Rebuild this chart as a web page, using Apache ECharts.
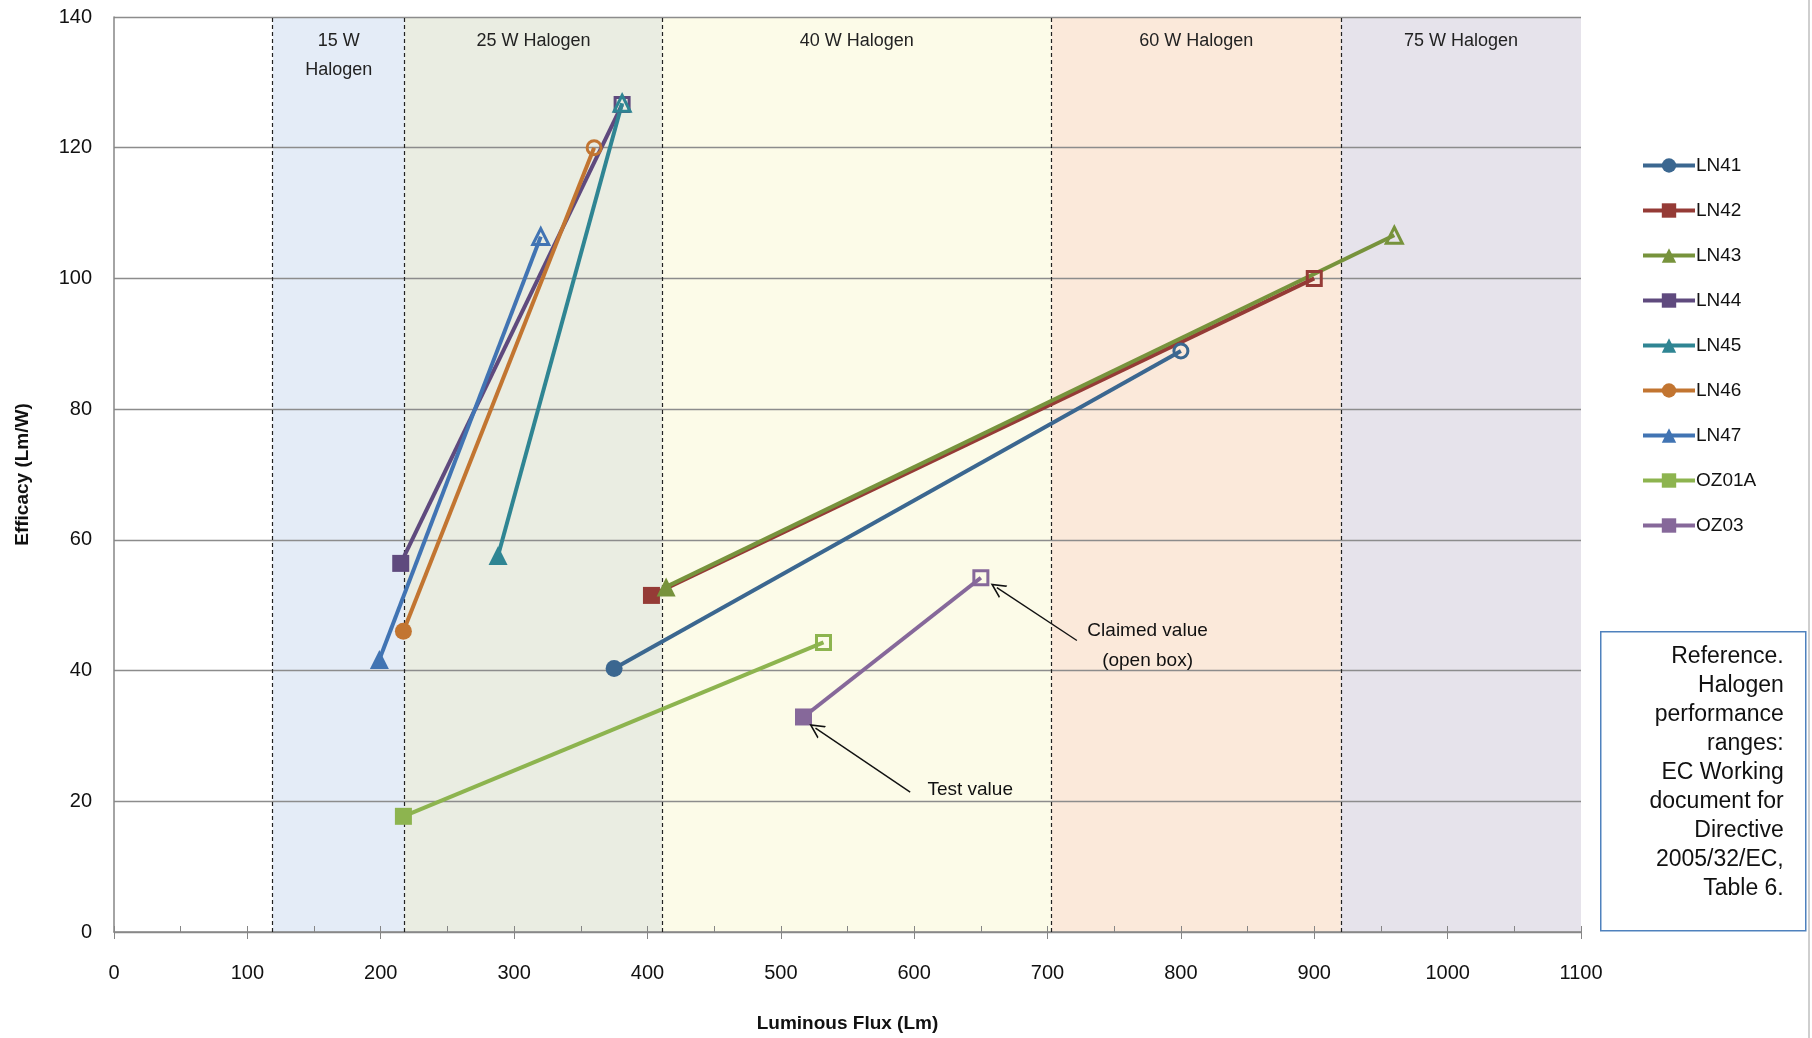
<!DOCTYPE html>
<html>
<head>
<meta charset="utf-8">
<title>Efficacy vs Luminous Flux</title>
<script src="https://cdn.jsdelivr.net/npm/echarts@6/dist/echarts.min.js"></script>
<style>
  html, body { margin: 0; padding: 0; background: #fff; }
  #chart { width: 1812px; height: 1038px; }
</style>
</head>
<body>
<div id="chart"></div>
<script>
// lamp series: test value (filled marker) -> claimed value (open marker)
var seriesNames = ['LN41', 'LN42', 'LN43', 'LN44', 'LN45', 'LN46', 'LN47', 'OZ01A', 'OZ03'];
var testFlux = [375, 403, 414, 215, 288, 217, 199, 217, 517];
var testEfficacy = [40.3, 51.5, 52.8, 56.4, 57.6, 46.0, 41.7, 17.7, 32.9];
var claimedFlux = [800, 900, 960, 381, 381, 360, 320, 532, 650];
var claimedEfficacy = [88.9, 100, 106.6, 126.6, 126.8, 120, 106.4, 44.3, 54.2];

// halogen reference ranges (lumens)
var bandNames = ['15 W\nHalogen', '25 W Halogen', '40 W Halogen', '60 W Halogen', '75 W Halogen'];
var bandStart = [119, 218, 411, 703, 920];
var bandEnd = [218, 411, 703, 920, 1100];

// axis ticks
var xTicks = [0, 100, 200, 300, 400, 500, 600, 700, 800, 900, 1000, 1100];
var yTicks = [0, 20, 40, 60, 80, 100, 120, 140];

// annotations: label positions and arrows [from] -> [to]
var noteLabels = ['Claimed value\n(open box)', 'Test value'];
var noteX = [775, 642];
var noteY = [43.8, 21.7];
var arrowFrom = [[722, 44.6], [597, 21.4]];
var arrowTo = [[662, 52.7], [526, 31.2]];

var refNote = ['Reference.', 'Halogen', 'performance', 'ranges:', 'EC Working', 'document for', 'Directive', '2005/32/EC,', 'Table 6.'];

var seriesColors = ['#3B6790', '#953B36', '#77933C', '#5F4A7E', '#2F8593', '#C27531', '#4174B3', '#8DB44F', '#86689A'];
var seriesSymbols = ['circle', 'rect', 'triangle', 'rect', 'triangle', 'circle', 'triangle', 'rect', 'rect'];
var bandColors = ['#E4ECF7', '#EAEDE2', '#FCFBE8', '#FBE9DA', '#E6E3EB'];

var FONT = "'Liberation Sans', Arial, sans-serif";

var chart = echarts.init(document.getElementById('chart'), null, {renderer: 'canvas'});

var series = [];

// background bands
var bandAreas = [];
for (var b = 0; b < bandNames.length; b++) {
    bandAreas.push([
        {name: bandNames[b], xAxis: bandStart[b], itemStyle: {color: bandColors[b]}},
        {xAxis: bandEnd[b]}
    ]);
}
series.push({
    name: 'bands',
    type: 'line',
    data: [],
    silent: true,
    markArea: {
        silent: true,
        z: 1,
        label: {
            show: true,
            position: 'insideTop',
            distance: 10,
            color: '#222',
            fontFamily: FONT,
            fontSize: 18,
            lineHeight: 29
        },
        data: bandAreas
    }
});

// dashed boundaries
var dashData = [];
for (var d = 0; d < bandStart.length; d++) {
    dashData.push({xAxis: bandStart[d]});
}
series.push({
    name: 'boundaries',
    type: 'line',
    data: [],
    silent: true,
    markLine: {
        silent: true,
        z: 2.5,
        symbol: 'none',
        label: {show: false},
        lineStyle: {color: '#222', type: [4, 3], width: 1.2},
        data: dashData
    }
});

// annotation arrows and text
var arrowData = [];
for (var a = 0; a < arrowFrom.length; a++) {
    arrowData.push([{coord: arrowFrom[a]}, {coord: arrowTo[a]}]);
}
var noteData = [];
for (var n = 0; n < noteLabels.length; n++) {
    noteData.push({name: noteLabels[n], coord: [noteX[n], noteY[n]]});
}
series.push({
    name: 'notes',
    type: 'line',
    data: [],
    silent: true,
    markLine: {
        silent: true,
        z: 6,
        symbol: ['none', 'path://M0,10 L5,0 L10,10 L8.8,10 L5,2.4 L1.2,10 Z'],
        symbolSize: [15, 15],
        label: {show: false},
        lineStyle: {color: '#111', type: 'solid', width: 1.4},
        data: arrowData
    },
    markPoint: {
        silent: true,
        z: 6,
        symbol: 'circle',
        symbolSize: 1,
        itemStyle: {color: 'rgba(0,0,0,0)'},
        label: {
            show: true,
            position: 'inside',
            formatter: '{b}',
            color: '#111',
            fontFamily: FONT,
            fontSize: 19,
            lineHeight: 30
        },
        data: noteData
    }
});

// lamp series
for (var i = 0; i < seriesNames.length; i++) {
    var c = seriesColors[i];
    var sz = seriesSymbols[i] == 'triangle' ? 19 : 17;
    series.push({
        name: seriesNames[i],
        type: 'line',
        symbol: seriesSymbols[i],
        symbolSize: sz,
        z: 3,
        lineStyle: {color: c, width: 4},
        itemStyle: {color: c},
        emphasis: {disabled: true},
        data: [
            [testFlux[i], testEfficacy[i]],
            {
                value: [claimedFlux[i], claimedEfficacy[i]],
                symbolSize: sz - 3,
                itemStyle: {color: 'rgba(255,255,255,0)', borderColor: c, borderWidth: 3}
            }
        ]
    });
}

var option = {
    animation: false,
    backgroundColor: '#fff',
    textStyle: {fontFamily: FONT},
    grid: {left: 114, right: 231, top: 17, bottom: 104},
    legend: {
        data: seriesNames,
        orient: 'vertical',
        left: 1636,
        top: 151,
        itemWidth: 52,
        itemHeight: 18,
        itemGap: 26,
        selectedMode: false,
        lineStyle: {width: 4},
        textStyle: {fontFamily: FONT, fontSize: 19, color: '#111', padding: [0, 0, 0, -4]}
    },
    xAxis: [{
        type: 'value',
        z: 2,
        min: xTicks[0],
        max: xTicks[xTicks.length - 1],
        interval: xTicks[1] - xTicks[0],
        name: 'Luminous Flux (Lm)',
        nameLocation: 'middle',
        nameGap: 82,
        nameTextStyle: {fontFamily: FONT, fontSize: 19, fontWeight: 'bold', color: '#111'},
        axisLine: {show: true, lineStyle: {color: '#868686', width: 1.5}},
        axisTick: {show: true, inside: false, length: 7, lineStyle: {color: '#868686'}},
        axisLabel: {margin: 31, fontSize: 20, color: '#111', fontFamily: FONT, formatter: function (v) { return String(v); }},
        splitLine: {show: false}
    }, {
        // half-step minor ticks inside the plot
        type: 'value',
        z: 2,
        position: 'bottom',
        min: xTicks[0],
        max: xTicks[xTicks.length - 1],
        interval: (xTicks[1] - xTicks[0]) / 2,
        axisLine: {show: false},
        axisTick: {show: true, inside: true, length: 6, lineStyle: {color: '#868686'}},
        axisLabel: {show: false},
        splitLine: {show: false}
    }],
    yAxis: {
        type: 'value',
        z: 2,
        min: yTicks[0],
        max: yTicks[yTicks.length - 1],
        interval: yTicks[1] - yTicks[0],
        name: 'Efficacy (Lm/W)',
        nameLocation: 'middle',
        nameGap: 82,
        nameTextStyle: {fontFamily: FONT, fontSize: 19, fontWeight: 'bold', color: '#111'},
        axisLine: {show: true, lineStyle: {color: '#868686', width: 1.5}},
        axisTick: {show: false},
        axisLabel: {margin: 22, fontSize: 20, color: '#111', fontFamily: FONT},
        splitLine: {show: true, lineStyle: {color: '#8C8C8C', width: 1.3}}
    },
    graphic: [{
        type: 'line',
        silent: true,
        shape: {x1: 1809, y1: 0, x2: 1809, y2: 1038},
        style: {stroke: '#BFBFBF', lineWidth: 1.5}
    }, {
        type: 'group',
        left: 1600,
        top: 631,
        silent: true,
        children: [{
            type: 'rect',
            shape: {x: 0, y: 0, width: 205, height: 299},
            style: {fill: '#fff', stroke: '#4F81BD', lineWidth: 1.5}
        }, {
            type: 'text',
            x: 183,
            y: 10,
            style: {
                text: refNote.join('\n'),
                align: 'right',
                verticalAlign: 'top',
                font: '23px ' + FONT,
                lineHeight: 29,
                fill: '#111'
            }
        }]
    }],
    series: series
};

chart.setOption(option);
</script>
</body>
</html>
